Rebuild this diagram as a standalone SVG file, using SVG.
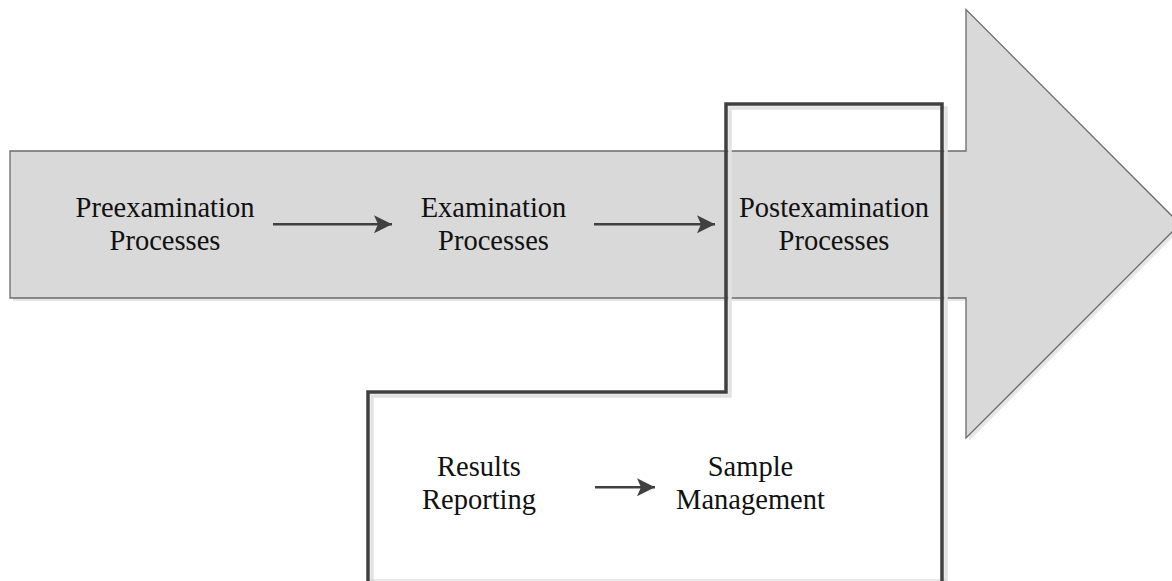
<svg xmlns="http://www.w3.org/2000/svg" width="1172" height="581" viewBox="0 0 1172 581">
  <style>
    .label { font-family: "Liberation Serif", "Times New Roman", serif; font-size: 28.5px; fill: #111111; text-anchor: middle; }
    .flow { stroke: #404040; stroke-width: 2.6; fill: none; }
    .shadow-fill { fill: #e6e6e6; }
    .shadow-line { stroke: #e2e2e2; stroke-width: 3.5; fill: none; }
  </style>
  <defs>
    <marker id="head" markerUnits="userSpaceOnUse" markerWidth="20" markerHeight="20" viewBox="0 0 20 20" refX="18" refY="10" orient="auto">
      <path d="M0,1 L18,10 L0,19 L4,10 Z" fill="#404040"/>
    </marker>
  </defs>

  <!-- Big process arrow -->
  <g id="process-arrow">
    <polygon class="shadow-fill" transform="translate(3,3)" points="10,151 966,151 966,9.5 1180,224 966,438 966,298 10,298"/>
    <polygon points="10,151 966,151 966,9.5 1180,224 966,438 966,298 10,298" fill="#d9d9d9" stroke="#6b6b6b" stroke-width="1.3"/>
  </g>

  <!-- Postexamination outline -->
  <g id="post-outline">
    <path class="shadow-line" d="M372,581 L372,396 L730,396 L730,108 L946,108 L946,581"/>
    <line x1="368" y1="580" x2="946" y2="580" stroke="#d4d4d4" stroke-width="1.2"/>
    <path d="M368,581 L368,392 L726,392 L726,104 L942,104 L942,581" fill="none" stroke="#404040" stroke-width="3.5" stroke-linejoin="miter"/>
  </g>

  <g id="node-preexamination">
    <text class="label" x="165" y="217">Preexamination</text>
    <text class="label" x="165" y="250">Processes</text>
  </g>
  <g id="node-examination">
    <text class="label" x="493.5" y="217">Examination</text>
    <text class="label" x="493.5" y="250">Processes</text>
  </g>
  <g id="node-postexamination">
    <text class="label" x="834" y="217">Postexamination</text>
    <text class="label" x="834" y="250">Processes</text>
  </g>
  <g id="node-results">
    <text class="label" x="479" y="476">Results</text>
    <text class="label" x="479" y="509">Reporting</text>
  </g>
  <g id="node-sample">
    <text class="label" x="750.5" y="476">Sample</text>
    <text class="label" x="750.5" y="509">Management</text>
  </g>

  <!-- Connectors -->
  <g id="connectors">
    <line class="flow" x1="273" y1="224.3" x2="392" y2="224.3" marker-end="url(#head)"/>
    <line class="flow" x1="594" y1="224.3" x2="715" y2="224.3" marker-end="url(#head)"/>
    <line class="flow" x1="595" y1="487.3" x2="655" y2="487.3" marker-end="url(#head)"/>
  </g>
</svg>
